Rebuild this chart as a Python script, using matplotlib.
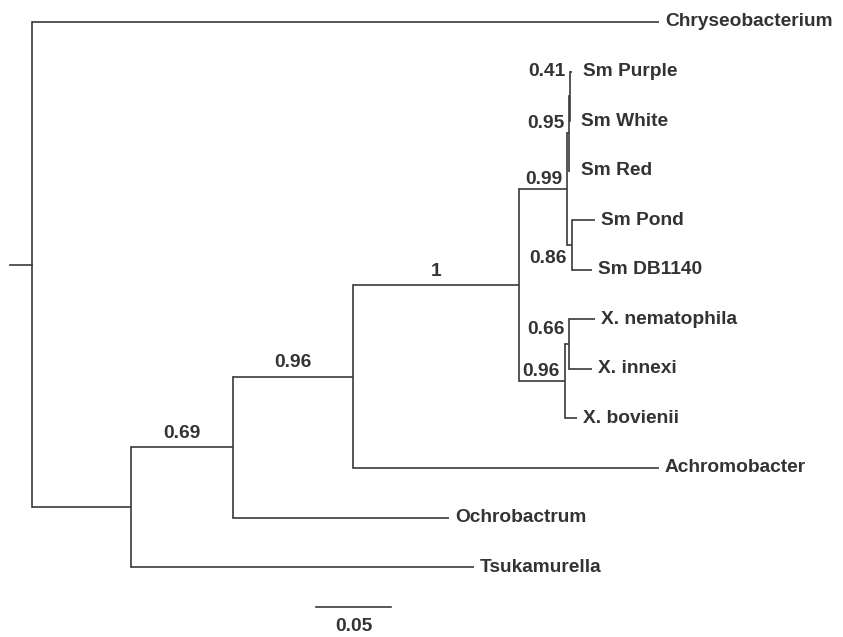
import matplotlib.pyplot as plt

# -----------------------------
# TREE DATA
# -----------------------------
# nodes listed parents-first; branch length in substitutions/site
node_names = ["root", "Chryseobacterium", "A", "Tsukamurella", "B", "Ochrobactrum",
              "C", "Achromobacter", "D", "Sm", "SmA", "SmPW", "Sm Purple", "Sm White",
              "Sm Red", "SmB", "Sm Pond", "Sm DB1140", "X", "XN", "X. nematophila",
              "X. innexi", "X. bovienii"]
node_parents = [None, "root", "root", "A", "A", "B",
                "B", "C", "C", "D", "Sm", "SmA", "SmPW", "SmPW",
                "SmA", "Sm", "SmB", "SmB", "D", "X", "XN",
                "XN", "X"]
branch_lengths = [0.0, 0.418, 0.0657, 0.229, 0.068, 0.1443,
                  0.0803, 0.204, 0.1107, 0.032, 0.0015, 0.0005, 0.0013, 0.0002,
                  0.0005, 0.0033, 0.0153, 0.0133, 0.0307, 0.0029, 0.0171,
                  0.0151, 0.008]

# tip order top to bottom
tip_order = ["Chryseobacterium", "Sm Purple", "Sm White", "Sm Red", "Sm Pond",
             "Sm DB1140", "X. nematophila", "X. innexi", "X. bovienii",
             "Achromobacter", "Ochrobactrum", "Tsukamurella"]

# posterior support of internal nodes
support_nodes = ["B", "C", "D", "Sm", "SmA", "SmPW", "SmB", "X", "XN"]
support_values = [0.69, 0.96, 1, 0.99, 0.95, 0.41, 0.86, 0.96, 0.66]

scale_len = 0.05

# -----------------------------
# LAYOUT / STYLE
# -----------------------------
LINE = "#3a3a3a"
TXT = "#333333"
FONT = dict(family="Liberation Sans", weight="bold", fontsize=13.8, color=TXT)
PX = 1.0 / 1500          # data units per pixel (x)
PY = 1.0 / 49.55         # data units per pixel (y)
label_dy = {"SmPW": -0.5, "SmB": 0.27, "XN": -0.3}   # nudges for crowded labels

# -----------------------------
# GEOMETRY
# -----------------------------
parent = dict(zip(node_names, node_parents))
blen = dict(zip(node_names, branch_lengths))
children = {n: [] for n in node_names}
for n, p in zip(node_names, node_parents):
    if p is not None:
        children[p].append(n)

xpos = {}
for n in node_names:
    xpos[n] = 0.0 if parent[n] is None else xpos[parent[n]] + blen[n]

ypos = {t: i for i, t in enumerate(tip_order)}
def get_y(n):
    if n in ypos:
        return ypos[n]
    ys = [get_y(c) for c in children[n]]
    ypos[n] = (min(ys) + max(ys)) / 2
    return ypos[n]
get_y("root")

# -----------------------------
# DRAW
# -----------------------------
fig = plt.figure(figsize=(8.43, 6.37), dpi=100)
ax = fig.add_axes([0, 0, 1, 1])
ax.set_xlim(-32 * PX, 811 * PX)
ax.set_ylim((637 - 22) * PY, -22 * PY)
ax.axis("off")

lw = 1.2
for n in node_names:
    if parent[n] is not None:
        ax.plot([xpos[parent[n]], xpos[n]], [ypos[n], ypos[n]], color=LINE, lw=lw,
                solid_capstyle="butt")
    if children[n]:
        ys = [ypos[c] for c in children[n]]
        ax.plot([xpos[n], xpos[n]], [min(ys), max(ys)], color=LINE, lw=lw,
                solid_capstyle="projecting")

# root stub
ax.plot([-22 * PX, 0], [ypos["root"], ypos["root"]], color=LINE, lw=lw)

# tip labels (tiny-branch tips get a bit more room)
for t in tip_order:
    gap = 11 * PX if blen[t] < 0.002 else 6 * PX
    ax.text(xpos[t] + gap, ypos[t], t, ha="left", va="center", **FONT)

# support values
for n, v in zip(support_nodes, support_values):
    p = parent[n]
    x0, x1 = xpos[p], xpos[n]
    txt = f"{v:g}"
    if (x1 - x0) > 60 * PX:
        ax.text((x0 + x1) / 2, ypos[n] - 0.28, txt, ha="center", va="center", **FONT)
    else:
        dy = label_dy.get(n, -0.2)
        ax.text(xpos[n] - 5 * PX, ypos[n] + dy, txt, ha="right", va="center", **FONT)

# scale bar
sb_x = (316 - 32) * PX
sb_y = (607 - 22) * PY
ax.plot([sb_x, sb_x + scale_len], [sb_y, sb_y], color=LINE, lw=lw)
ax.text(sb_x + scale_len / 2, sb_y + 0.40, f"{scale_len:g}", ha="center", va="center", **FONT)

fig.savefig("out.png", dpi=100)
